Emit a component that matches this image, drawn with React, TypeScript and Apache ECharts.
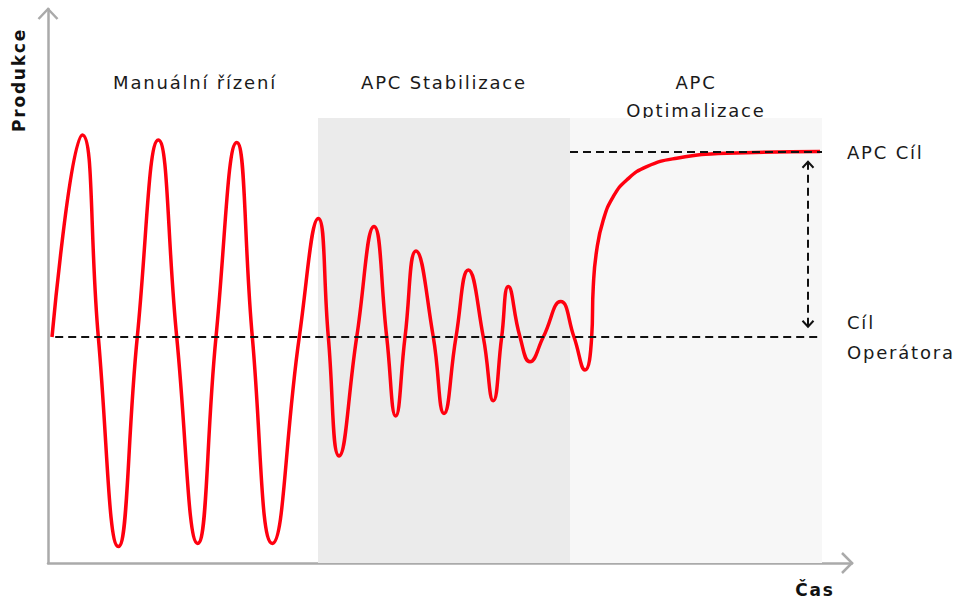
import { useEffect, useRef } from "react";
import * as echarts from "echarts";

// Process value over time (time units, production relative to the operator target)
const time = [
  0.5, 4.29, 6.29, 8.79, 11.16, 13.79, 16.09, 18.71, 21.0, 23.59, 25.54, 28.04,
  31.41, 33.79, 35.04, 36.38, 38.59, 40.75, 42.34, 43.46, 44.63, 46.0, 48.16,
  49.5, 51.0, 52.54, 54.41, 55.66, 56.71, 57.54, 59.0, 60.25, 61.91, 64.09,
  65.75, 67.13, 67.96, 68.16, 68.59, 69.41, 70.66, 72.34, 74.84, 78.59, 84.84, 96.5,
];
const production = [
  0, 101, 0, -104.8, 0, 98.5, 0, -103.2, 0, 97.3, 0, -103.2,
  0, 59.3, 0, -59.5, 0, 55.2, 0, -39.5, 0, 43, 0,
  -38.2, 0, 33.5, 0, -31.9, 0, 25.2, 0, -12.4, 0, 17.7,
  0, -16.5, 0, 25.2, 43.5, 58.5, 70.2, 78.5, 85.2, 89.4, 91.9, 92.7,
];

// Control phases: [start, end] on the time axis
const stabilizationPhase = [33.75, 65.25];
const optimizationPhase = [65.25, 96.75];
const phaseTop = 109.5;

const operatorTarget = 0;
const apcTarget = 92.5;
const benefitArrowTime = 95;
const benefitArrowRange = [87.65, 5.15];

const X_MAX = 100.5;
const Y_MIN = -113;
const Y_MAX = 164;

const FONT = "'DejaVu Sans', sans-serif";
const TEXT = "#1a1a1a";
const AXIS = "#aaaaaa";

export default function App() {
  const ref = useRef<HTMLDivElement>(null);

  useEffect(() => {
    const chart = echarts.init(ref.current!, null, { renderer: "svg" });
    const curve = time.map((t, i) => [t, production[i]]);

    const hiddenAxis = {
      type: "value",
      axisLine: { show: true, onZero: false, lineStyle: { color: AXIS, width: 2.5 } },
      axisTick: { show: false },
      axisLabel: { show: false },
      splitLine: { show: false },
    };

    chart.setOption({
      animation: false,
      grid: { left: 48, right: 109, top: 9, bottom: 40 },
      xAxis: { ...hiddenAxis, min: 0, max: X_MAX },
      yAxis: { ...hiddenAxis, min: Y_MIN, max: Y_MAX },
      series: [
        {
          type: "line",
          data: [],
          z: 1,
          silent: true,
          markArea: {
            silent: true,
            data: [
              [
                { xAxis: stabilizationPhase[0], yAxis: Y_MIN, itemStyle: { color: "#ebebeb" } },
                { xAxis: stabilizationPhase[1], yAxis: phaseTop },
              ],
              [
                { xAxis: optimizationPhase[0], yAxis: Y_MIN, itemStyle: { color: "#f7f7f7" } },
                { xAxis: optimizationPhase[1], yAxis: phaseTop },
              ],
            ],
          },
        },
        {
          type: "line",
          data: [],
          z: 2,
          silent: true,
          markLine: {
            silent: true,
            symbol: "none",
            label: { show: false },
            lineStyle: { color: "#111", width: 2, type: [8, 5] },
            data: [
              [{ coord: [0.9, operatorTarget] }, { coord: [optimizationPhase[1], operatorTarget] }],
              [{ coord: [optimizationPhase[0], apcTarget] }, { coord: [optimizationPhase[1], apcTarget] }],
              [
                { coord: [benefitArrowTime, benefitArrowRange[0]] },
                { coord: [benefitArrowTime, benefitArrowRange[1]] },
              ],
            ],
          },
        },
        {
          type: "line",
          data: curve,
          z: 3,
          smooth: 0.5,
          showSymbol: false,
          lineStyle: { color: "#ff000f", width: 3.5 },
        },
      ],
    });

    const px = (v: number[]) => chart.convertToPixel({ gridIndex: 0 }, v) as number[];
    const top = px([benefitArrowTime, benefitArrowRange[0]]);
    const bot = px([benefitArrowTime, benefitArrowRange[1]]);
    const yEnd = px([0, Y_MAX]);
    const xEnd = px([X_MAX, Y_MIN]);

    const text = (x: number, y: number, t: string, extra: any = {}) => ({
      type: "text",
      x,
      y,
      style: {
        text: t,
        fill: TEXT,
        font: `18px ${FONT}`,
        align: "left",
        verticalAlign: "middle",
        ...extra,
      },
    });

    chart.setOption({
      graphic: [
        {
          type: "polyline",
          shape: { points: [[yEnd[0] - 9.5, yEnd[1] + 10], [yEnd[0], yEnd[1]], [yEnd[0] + 9.5, yEnd[1] + 10]] },
          style: { stroke: AXIS, lineWidth: 2.5, fill: null },
        },
        {
          type: "polyline",
          shape: { points: [[xEnd[0] - 10, xEnd[1] - 10], [xEnd[0], xEnd[1]], [xEnd[0] - 10, xEnd[1] + 10]] },
          style: { stroke: AXIS, lineWidth: 2.5, fill: null },
        },
        {
          type: "polyline",
          z: 10,
          shape: { points: [[top[0] - 5.5, top[1] + 6], [top[0], top[1]], [top[0] + 5.5, top[1] + 6]] },
          style: { stroke: "#111", lineWidth: 2, fill: null },
        },
        {
          type: "polyline",
          z: 10,
          shape: { points: [[bot[0] - 5.5, bot[1] - 6], [bot[0], bot[1]], [bot[0] + 5.5, bot[1] - 6]] },
          style: { stroke: "#111", lineWidth: 2, fill: null },
        },
        {
          type: "text",
          x: 19,
          y: 80,
          rotation: Math.PI / 2,
          style: {
            text: "Produkce",
            fill: "#111",
            font: `bold 17px ${FONT}`,
            align: "center",
            verticalAlign: "middle",
          },
        },
        text(815, 590, "Čas", { font: `bold 17px ${FONT}`, fill: "#111", align: "center" }),
        text(195, 82, "Manuální řízení", { align: "center" }),
        text(444, 82, "APC Stabilizace", { align: "center" }),
        text(696, 82, "APC", { align: "center" }),
        text(696, 110, "Optimalizace", { align: "center" }),
        text(847, 152, "APC Cíl"),
        text(847, 322, "Cíl"),
        text(847, 352, "Operátora"),
        text(630, 228, "Benefit díky"),
        text(630, 256, "Optimizaci"),
      ],
    });

    return () => chart.dispose();
  }, []);

  return (
    <>
      {/* the lettering is set wide, as in ABB's typeface */}
      <style>{".abb-chart svg text { letter-spacing: 1.8px; }"}</style>
      <div
        ref={ref}
        className="abb-chart"
        style={{ position: "absolute", left: 0, top: 0, width: 961, height: 603 }}
      />
    </>
  );
}
